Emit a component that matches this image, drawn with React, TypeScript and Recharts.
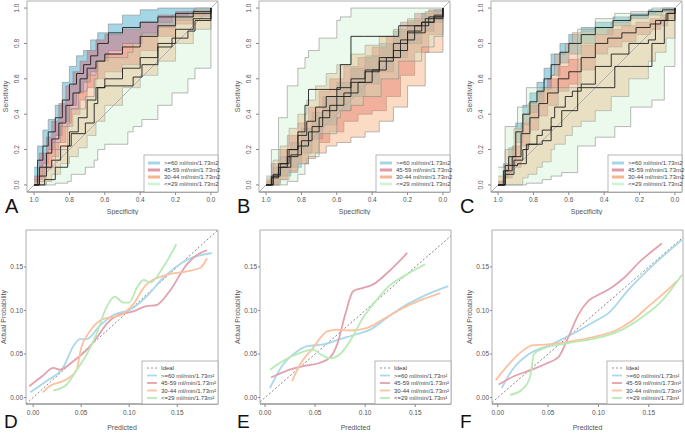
import React from 'react';
import { ComposedChart, Area, Line, XAxis, YAxis, ReferenceLine, ReferenceArea } from 'recharts';

// ---------- labels ----------
const ROC_GROUPS = ['>=60 ml/min/1.73m2', '45-59 ml/min/1.73m2', '30-44 ml/min/1.73m2', '<=29 ml/min/1.73m2'];
const CAL_GROUPS = ['>=60 ml/min/1.73m\u00b2', '45-59 ml/min/1.73m\u00b2', '30-44 ml/min/1.73m\u00b2', '<=29 ml/min/1.73m\u00b2'];
const IDEAL_LABEL = 'Ideal';
const ROC_TICKS = [0, 0.2, 0.4, 0.6, 0.8, 1];
const CAL_TICKS = [0, 0.05, 0.1, 0.15];

// ---------- colours ----------
const BAND_FILLS = ['#94cfe2', '#d9606a', '#f4a46a', '#c1ecc5'];
const BAND_OPACITY = [0.85, 0.45, 0.4, 0.3];
const KEY_COLORS = ['#a6d5e3', '#e39aa5', '#f6b591', '#d5f2d6'];
const CAL_COLORS = ['#a9d8ea', '#e3a1ad', '#fdc0a0', '#b8eab4'];

// ---------- Panel A (ROC) ----------
const A60_SPEC = [1, 0.98, 0.95, 0.92, 0.88, 0.84, 0.8, 0.76, 0.72, 0.68, 0.64, 0.58, 0.5, 0.4, 0.3, 0.2, 0.1, 0];
const A60_SENS = [0, 0.14, 0.22, 0.3, 0.38, 0.48, 0.57, 0.63, 0.68, 0.73, 0.8, 0.86, 0.89, 0.92, 0.95, 0.97, 0.98, 1];
const A60_HI = [0.1, 0.22, 0.31, 0.37, 0.45, 0.58, 0.67, 0.73, 0.76, 0.82, 0.86, 0.91, 0.96, 0.99, 1, 1, 1, 1];
const A60_LO = [0, 0.05, 0.12, 0.2, 0.28, 0.36, 0.45, 0.52, 0.58, 0.64, 0.7, 0.76, 0.8, 0.85, 0.89, 0.93, 0.96, 1];

const A45_SPEC = [1, 0.97, 0.93, 0.9, 0.86, 0.82, 0.78, 0.74, 0.7, 0.65, 0.6, 0.5, 0.4, 0.3, 0.2, 0.1, 0];
const A45_SENS = [0, 0.1, 0.18, 0.26, 0.35, 0.45, 0.52, 0.6, 0.66, 0.7, 0.74, 0.78, 0.84, 0.9, 0.95, 0.97, 1];
const A45_HI = [0.05, 0.18, 0.27, 0.36, 0.46, 0.56, 0.64, 0.7, 0.76, 0.82, 0.85, 0.88, 0.92, 0.96, 0.98, 0.99, 1];
const A45_LO = [0, 0.03, 0.09, 0.16, 0.24, 0.33, 0.4, 0.48, 0.55, 0.6, 0.64, 0.68, 0.76, 0.84, 0.91, 0.95, 1];

const A30_SPEC = [1, 0.97, 0.93, 0.9, 0.85, 0.8, 0.75, 0.7, 0.65, 0.6, 0.5, 0.4, 0.3, 0.2, 0.1, 0];
const A30_SENS = [0, 0.05, 0.1, 0.14, 0.22, 0.3, 0.38, 0.48, 0.55, 0.6, 0.66, 0.72, 0.8, 0.88, 0.94, 1];
const A30_HI = [0.03, 0.1, 0.18, 0.24, 0.33, 0.43, 0.53, 0.62, 0.7, 0.74, 0.8, 0.84, 0.9, 0.95, 0.98, 1];
const A30_LO = [0, 0, 0.02, 0.06, 0.12, 0.16, 0.21, 0.28, 0.36, 0.45, 0.55, 0.62, 0.7, 0.8, 0.88, 1];

const A29_SPEC = [1, 0.94, 0.88, 0.81, 0.79, 0.71, 0.66, 0.64, 0.6, 0.47, 0.44, 0.39, 0.3, 0.22, 0.13, 0.09, 0];
const A29_SENS = [0, 0.03, 0.1, 0.22, 0.29, 0.35, 0.46, 0.55, 0.56, 0.56, 0.61, 0.68, 0.78, 0.83, 0.87, 0.93, 1];
const A29_HI = [0.02, 0.1, 0.2, 0.35, 0.43, 0.5, 0.6, 0.7, 0.72, 0.75, 0.8, 0.86, 0.92, 0.96, 0.98, 1, 1];
const A29_LO = [0, 0, 0.01, 0.02, 0.06, 0.1, 0.14, 0.2, 0.23, 0.3, 0.33, 0.37, 0.45, 0.52, 0.6, 0.66, 1];

// ---------- Panel B (ROC) ----------
const B60_SPEC = [1, 0.96, 0.92, 0.86, 0.8, 0.74, 0.68, 0.6, 0.52, 0.44, 0.36, 0.28, 0.2, 0.12, 0.05, 0];
const B60_SENS = [0, 0.05, 0.1, 0.17, 0.25, 0.33, 0.42, 0.5, 0.58, 0.65, 0.72, 0.8, 0.87, 0.92, 0.96, 1];
const B60_HI = [0.02, 0.1, 0.16, 0.24, 0.32, 0.41, 0.5, 0.58, 0.66, 0.73, 0.8, 0.87, 0.93, 0.97, 0.99, 1];
const B60_LO = [0, 0.01, 0.05, 0.1, 0.18, 0.26, 0.34, 0.42, 0.5, 0.57, 0.64, 0.72, 0.8, 0.87, 0.92, 1];

const B45_SPEC = [1, 0.97, 0.93, 0.88, 0.82, 0.76, 0.7, 0.64, 0.56, 0.48, 0.4, 0.32, 0.24, 0.16, 0.08, 0];
const B45_SENS = [0, 0.04, 0.1, 0.16, 0.22, 0.3, 0.38, 0.45, 0.52, 0.58, 0.65, 0.72, 0.82, 0.9, 0.95, 1];
const B45_HI = [0.03, 0.12, 0.2, 0.28, 0.35, 0.44, 0.53, 0.6, 0.67, 0.72, 0.78, 0.84, 0.92, 0.97, 0.99, 1];
const B45_LO = [0, 0, 0.03, 0.07, 0.12, 0.18, 0.24, 0.3, 0.36, 0.4, 0.42, 0.5, 0.62, 0.75, 0.85, 1];

const B30_SPEC = [1, 0.96, 0.92, 0.87, 0.82, 0.77, 0.72, 0.66, 0.6, 0.52, 0.44, 0.36, 0.28, 0.2, 0.1, 0];
const B30_SENS = [0, 0.06, 0.12, 0.2, 0.28, 0.36, 0.44, 0.5, 0.55, 0.6, 0.64, 0.7, 0.76, 0.86, 0.94, 1];
const B30_HI = [0.04, 0.14, 0.22, 0.32, 0.4, 0.48, 0.56, 0.63, 0.68, 0.74, 0.79, 0.84, 0.88, 0.94, 0.98, 1];
const B30_LO = [0, 0, 0.03, 0.08, 0.12, 0.15, 0.18, 0.22, 0.24, 0.27, 0.3, 0.36, 0.44, 0.56, 0.75, 1];

const B29_SPEC = [1, 0.97, 0.93, 0.88, 0.82, 0.78, 0.76, 0.7, 0.6, 0.58, 0.52, 0.45, 0.35, 0.25, 0.12, 0.05, 0];
const B29_SENS = [0, 0.05, 0.12, 0.2, 0.3, 0.45, 0.54, 0.54, 0.54, 0.68, 0.84, 0.84, 0.84, 0.9, 0.92, 0.95, 1];
const B29_HI = [0.05, 0.2, 0.38, 0.56, 0.66, 0.72, 0.76, 0.83, 0.93, 0.95, 1, 1, 1, 1, 1, 1, 1];
const B29_LO = [0, 0, 0, 0.02, 0.06, 0.12, 0.16, 0.29, 0.38, 0.42, 0.45, 0.5, 0.6, 0.7, 0.78, 0.84, 1];

// ---------- Panel C (ROC) ----------
const C60_SPEC = [1, 0.97, 0.94, 0.9, 0.86, 0.82, 0.78, 0.74, 0.7, 0.65, 0.6, 0.53, 0.45, 0.35, 0.25, 0.15, 0.07, 0];
const C60_SENS = [0, 0.08, 0.16, 0.3, 0.4, 0.47, 0.53, 0.6, 0.68, 0.75, 0.8, 0.85, 0.89, 0.93, 0.96, 0.98, 0.99, 1];
const C60_HI = [0.02, 0.12, 0.21, 0.35, 0.45, 0.52, 0.58, 0.66, 0.74, 0.8, 0.85, 0.89, 0.92, 0.95, 0.97, 0.99, 1, 1];
const C60_LO = [0, 0.04, 0.11, 0.24, 0.34, 0.41, 0.47, 0.54, 0.62, 0.69, 0.74, 0.8, 0.85, 0.9, 0.94, 0.96, 0.98, 1];

const C45_SPEC = [1, 0.96, 0.92, 0.87, 0.82, 0.77, 0.72, 0.66, 0.6, 0.53, 0.45, 0.38, 0.3, 0.22, 0.14, 0.08, 0.04, 0];
const C45_SENS = [0, 0.08, 0.16, 0.29, 0.38, 0.46, 0.52, 0.6, 0.64, 0.72, 0.8, 0.83, 0.86, 0.89, 0.91, 0.93, 0.97, 1];
const C45_HI = [0.02, 0.12, 0.22, 0.35, 0.45, 0.53, 0.6, 0.67, 0.71, 0.79, 0.85, 0.88, 0.9, 0.92, 0.94, 0.96, 0.98, 1];
const C45_LO = [0, 0.04, 0.1, 0.22, 0.31, 0.39, 0.45, 0.53, 0.57, 0.65, 0.74, 0.78, 0.81, 0.85, 0.88, 0.9, 0.94, 1];

const C30_SPEC = [1, 0.96, 0.91, 0.86, 0.83, 0.78, 0.75, 0.7, 0.68, 0.62, 0.58, 0.53, 0.45, 0.36, 0.26, 0.15, 0.11, 0.05, 0];
const C30_SENS = [0, 0.06, 0.14, 0.2, 0.23, 0.28, 0.31, 0.38, 0.44, 0.5, 0.53, 0.57, 0.67, 0.74, 0.8, 0.82, 0.93, 0.97, 1];
const C30_HI = [0.05, 0.2, 0.32, 0.4, 0.46, 0.52, 0.55, 0.62, 0.74, 0.8, 0.86, 0.87, 0.89, 0.92, 0.95, 0.97, 0.98, 0.99, 1];
const C30_LO = [0, 0, 0, 0.04, 0.06, 0.1, 0.13, 0.2, 0.23, 0.28, 0.33, 0.36, 0.42, 0.5, 0.6, 0.7, 0.75, 0.83, 1];

const C29_SPEC = [1, 0.96, 0.89, 0.84, 0.75, 0.7, 0.64, 0.55, 0.45, 0.34, 0.25, 0.13, 0.06, 0];
const C29_SENS = [0, 0.11, 0.12, 0.23, 0.25, 0.33, 0.42, 0.55, 0.55, 0.67, 0.67, 0.8, 0.93, 1];
const C29_HI = [0.1, 0.33, 0.44, 0.55, 0.55, 0.55, 0.55, 0.88, 0.94, 0.97, 0.98, 1, 1, 1];
const C29_LO = [0, 0, 0, 0.01, 0.03, 0.05, 0.07, 0.22, 0.27, 0.33, 0.44, 0.48, 0.67, 1];

// ---------- Panel D (calibration) ----------
const D60_X = [-0.003, 0.014, 0.031, 0.043, 0.049, 0.056, 0.069, 0.084, 0.101, 0.118, 0.135, 0.16, 0.186];
const D60_Y = [0.006, 0.019, 0.034, 0.061, 0.067, 0.067, 0.082, 0.095, 0.101, 0.116, 0.137, 0.158, 0.166];
const D45_X = [-0.004, 0.01, 0.021, 0.028, 0.042, 0.056, 0.069, 0.076, 0.087, 0.104, 0.118, 0.128, 0.142, 0.16, 0.174, 0.181];
const D45_Y = [0.013, 0.025, 0.034, 0.032, 0.042, 0.055, 0.073, 0.084, 0.094, 0.099, 0.105, 0.106, 0.122, 0.153, 0.166, 0.169];
const D30_X = [0.01, 0.017, 0.035, 0.045, 0.05, 0.059, 0.069, 0.08, 0.09, 0.104, 0.118, 0.139, 0.16, 0.174, 0.181];
const D30_Y = [0.006, 0.013, 0.021, 0.031, 0.057, 0.076, 0.088, 0.092, 0.094, 0.107, 0.13, 0.141, 0.145, 0.149, 0.16];
const D29_X = [0.021, 0.035, 0.045, 0.056, 0.066, 0.076, 0.085, 0.094, 0.1, 0.108, 0.115, 0.122, 0.135, 0.149];
const D29_Y = [0.008, 0.015, 0.031, 0.05, 0.073, 0.103, 0.116, 0.109, 0.109, 0.126, 0.135, 0.132, 0.149, 0.176];

// ---------- Panel E (calibration) ----------
const E60_X = [0.005, 0.018, 0.032, 0.042, 0.058, 0.075, 0.092, 0.105, 0.122, 0.142, 0.165, 0.183];
const E60_Y = [0.011, 0.038, 0.053, 0.059, 0.061, 0.067, 0.073, 0.078, 0.092, 0.107, 0.12, 0.128];
const E45_X = [0.006, 0.022, 0.038, 0.055, 0.065, 0.072, 0.08, 0.088, 0.098, 0.108, 0.122, 0.142];
const E45_Y = [0.023, 0.031, 0.036, 0.04, 0.046, 0.061, 0.095, 0.122, 0.126, 0.13, 0.143, 0.166];
const E30_X = [0.027, 0.035, 0.048, 0.062, 0.072, 0.085, 0.102, 0.118, 0.138, 0.158, 0.175];
const E30_Y = [0.019, 0.038, 0.057, 0.076, 0.078, 0.077, 0.08, 0.09, 0.103, 0.113, 0.12];
const E29_X = [0.005, 0.015, 0.028, 0.048, 0.055, 0.065, 0.075, 0.085, 0.098, 0.108, 0.122, 0.135, 0.147, 0.16];
const E29_Y = [0.032, 0.04, 0.048, 0.055, 0.05, 0.045, 0.05, 0.065, 0.092, 0.107, 0.126, 0.137, 0.145, 0.153];

// ---------- Panel F (calibration) ----------
const F60_X = [0.004, 0.014, 0.031, 0.044, 0.057, 0.074, 0.097, 0.11, 0.13, 0.157, 0.183];
const F60_Y = [0.011, 0.031, 0.05, 0.057, 0.063, 0.073, 0.088, 0.097, 0.124, 0.155, 0.181];
const F45_X = [0.001, 0.017, 0.034, 0.05, 0.06, 0.07, 0.08, 0.09, 0.1, 0.11, 0.123, 0.143, 0.163];
const F45_Y = [0.015, 0.025, 0.032, 0.04, 0.046, 0.069, 0.095, 0.111, 0.118, 0.124, 0.135, 0.158, 0.177];
const F30_X = [-0.002, 0.014, 0.024, 0.034, 0.05, 0.07, 0.097, 0.117, 0.133, 0.15, 0.17, 0.178];
const F30_Y = [0.02, 0.042, 0.053, 0.06, 0.061, 0.064, 0.07, 0.077, 0.088, 0.105, 0.125, 0.134];
const F29_X = [0.012, 0.024, 0.032, 0.036, 0.047, 0.067, 0.097, 0.12, 0.143, 0.163, 0.183];
const F29_Y = [0.003, 0.009, 0.023, 0.05, 0.057, 0.062, 0.068, 0.076, 0.092, 0.111, 0.141];

// ---------- builders ----------
const rocRows = (spec: number[], sens: number[], lo: number[], hi: number[]) =>
  spec.map((s, i) => ({ spec: s, sens: sens[i], band: [lo[i], hi[i]] }));
const calRows = (xs: number[], ys: number[]) => xs.map((x, i) => ({ x, y: ys[i] }));

const PANEL_A = [
  rocRows(A60_SPEC, A60_SENS, A60_LO, A60_HI),
  rocRows(A45_SPEC, A45_SENS, A45_LO, A45_HI),
  rocRows(A30_SPEC, A30_SENS, A30_LO, A30_HI),
  rocRows(A29_SPEC, A29_SENS, A29_LO, A29_HI),
];
const PANEL_B = [
  rocRows(B60_SPEC, B60_SENS, B60_LO, B60_HI),
  rocRows(B45_SPEC, B45_SENS, B45_LO, B45_HI),
  rocRows(B30_SPEC, B30_SENS, B30_LO, B30_HI),
  rocRows(B29_SPEC, B29_SENS, B29_LO, B29_HI),
];
const PANEL_C = [
  rocRows(C60_SPEC, C60_SENS, C60_LO, C60_HI),
  rocRows(C45_SPEC, C45_SENS, C45_LO, C45_HI),
  rocRows(C30_SPEC, C30_SENS, C30_LO, C30_HI),
  rocRows(C29_SPEC, C29_SENS, C29_LO, C29_HI),
];
const PANEL_D = [calRows(D60_X, D60_Y), calRows(D45_X, D45_Y), calRows(D30_X, D30_Y), calRows(D29_X, D29_Y)];
const PANEL_E = [calRows(E60_X, E60_Y), calRows(E45_X, E45_Y), calRows(E30_X, E30_Y), calRows(E29_X, E29_Y)];
const PANEL_F = [calRows(F60_X, F60_Y), calRows(F45_X, F45_Y), calRows(F30_X, F30_Y), calRows(F29_X, F29_Y)];

const FONT = '"Liberation Sans", Arial, Helvetica, sans-serif';
const TXT = '#555';
const ROC_DOMAIN: [number, number] = [-0.04, 1.04];
const CAL_Y_DOMAIN: [number, number] = [-0.0074, 0.1924];

const RocYTick = (props: any) => {
  const { x, y, payload } = props;
  return (
    <text x={x} y={y} transform={`rotate(-90, ${x}, ${y})`} textAnchor="middle" fontSize={6.5} fill={TXT}>
      {Number(payload.value).toFixed(1)}
    </text>
  );
};

function RocPanel({ x0, x1, groups }: { x0: number; x1: number; groups: any[] }) {
  const yW = 27, mTop = 1, plotH = 191, xH = 23, mRight = 3;
  const plotW = x1 - x0;
  return (
    <div style={{ position: 'absolute', left: x0 - yW, top: 0 }}>
      <ComposedChart width={yW + plotW + mRight} height={mTop + plotH + xH} margin={{ top: mTop, right: mRight, bottom: 0, left: 0 }}>
        <XAxis type="number" dataKey="spec" domain={ROC_DOMAIN} reversed allowDataOverflow ticks={ROC_TICKS}
          tickFormatter={(v: number) => v.toFixed(1)} height={xH} tickSize={3} tickMargin={2} stroke="#888" interval={0}
          tick={{ fontSize: 6.5, fill: TXT }}
          label={{ value: 'Specificity', position: 'insideBottom', offset: 1, fontSize: 7, fill: TXT }} />
        <YAxis type="number" domain={ROC_DOMAIN} allowDataOverflow ticks={ROC_TICKS} width={yW} tickSize={3} tickMargin={5}
          axisLine={false} stroke="#888" tick={RocYTick} interval={0}
          label={{ value: 'Sensitivity', angle: -90, position: 'insideLeft', offset: 6, fontSize: 7, fill: TXT, style: { textAnchor: 'middle' } }} />
        <ReferenceLine segment={[{ x: 1.04, y: -0.04 }, { x: -0.04, y: 1.04 }]} stroke="#b0b0b0" strokeWidth={1} />
        {groups.map((g, i) => (
          <Area key={'band' + i} data={g} dataKey="band" type="stepAfter" fill={BAND_FILLS[i]} fillOpacity={BAND_OPACITY[i]}
            stroke="#8c8c8c" strokeWidth={0.6} isAnimationActive={false} dot={false} activeDot={false} />
        ))}
        {groups.map((g, i) => (
          <Line key={'roc' + i} data={g} dataKey="sens" type="stepAfter" stroke="#1e1e1e" strokeWidth={0.9}
            dot={false} activeDot={false} isAnimationActive={false} />
        ))}
        <ReferenceArea x1={ROC_DOMAIN[0]} x2={ROC_DOMAIN[1]} y1={ROC_DOMAIN[0]} y2={ROC_DOMAIN[1]} fill="none" stroke="#999" strokeWidth={0.8} />
      </ComposedChart>
    </div>
  );
}

function CalPanel({ x0, x1, xDomain, groups }: { x0: number; x1: number; xDomain: [number, number]; groups: any[] }) {
  const yW = 26, mTop = 1, plotH = 174, xH = 29, mRight = 2;
  const plotW = x1 - x0;
  return (
    <div style={{ position: 'absolute', left: x0 - yW, top: 229 }}>
      <ComposedChart width={yW + plotW + mRight} height={mTop + plotH + xH} margin={{ top: mTop, right: mRight, bottom: 0, left: 0 }}>
        <XAxis type="number" dataKey="x" domain={xDomain} allowDataOverflow ticks={CAL_TICKS}
          tickFormatter={(v: number) => v.toFixed(2)} height={xH} tickSize={3} tickMargin={3} stroke="#888" interval={0}
          tick={{ fontSize: 6.5, fill: TXT }}
          label={{ value: 'Predicted', position: 'insideBottom', offset: 3, fontSize: 7, fill: TXT }} />
        <YAxis type="number" dataKey="y" domain={CAL_Y_DOMAIN} allowDataOverflow ticks={CAL_TICKS} width={yW}
          tickFormatter={(v: number) => v.toFixed(2)} tickSize={2} tickMargin={1} axisLine={false} stroke="#888" interval={0}
          tick={{ fontSize: 6.5, fill: TXT }}
          label={{ value: 'Actual Probability', angle: -90, position: 'insideLeft', offset: 4, fontSize: 7, fill: TXT, style: { textAnchor: 'middle' } }} />
        <ReferenceLine segment={[{ x: xDomain[0], y: Math.max(xDomain[0], CAL_Y_DOMAIN[0]) }, { x: xDomain[1], y: xDomain[1] }]}
          stroke="#666" strokeDasharray="2 2" strokeWidth={0.8} />
        {groups.map((g, i) => (
          <Line key={'cal' + i} data={g} dataKey="y" type="monotone" stroke={CAL_COLORS[i]} strokeWidth={1.8}
            dot={false} activeDot={false} isAnimationActive={false} />
        ))}
        <ReferenceArea x1={xDomain[0]} x2={xDomain[1]} y1={CAL_Y_DOMAIN[0]} y2={CAL_Y_DOMAIN[1]} fill="none" stroke="#999" strokeWidth={0.8} />
      </ComposedChart>
    </div>
  );
}

function RocKey({ right, bottom }: { right: number; bottom: number }) {
  const w = 74, h = 37, x = right - w, y = bottom - h;
  return (
    <g>
      <rect x={x} y={y} width={w} height={h} fill="#fff" stroke="#999" strokeWidth={0.7} />
      {ROC_GROUPS.map((t, i) => (
        <g key={t}>
          <line x1={x + 4} x2={x + 16} y1={y + 8 + i * 7} y2={y + 8 + i * 7} stroke={KEY_COLORS[i]} strokeWidth={3} />
          <text x={x + 20} y={y + 10.2 + i * 7} fontSize={6} fill="#444">{t}</text>
        </g>
      ))}
    </g>
  );
}

function CalKey({ right, bottom }: { right: number; bottom: number }) {
  const w = 76, h = 43, x = right - w, y = bottom - h;
  return (
    <g>
      <rect x={x} y={y} width={w} height={h} fill="#fff" stroke="#999" strokeWidth={0.7} />
      <line x1={x + 5} x2={x + 15} y1={y + 7} y2={y + 7} stroke="#777" strokeWidth={0.8} strokeDasharray="2 2" />
      <text x={x + 19} y={y + 9.2} fontSize={6} fill="#444">{IDEAL_LABEL}</text>
      {CAL_GROUPS.map((t, i) => (
        <g key={t}>
          <line x1={x + 5} x2={x + 15} y1={y + 14.5 + i * 7.5} y2={y + 14.5 + i * 7.5} stroke={CAL_COLORS[i]} strokeWidth={1.8} />
          <text x={x + 19} y={y + 16.7 + i * 7.5} fontSize={6} fill="#444">{t}</text>
        </g>
      ))}
    </g>
  );
}

export default function App() {
  return (
    <div style={{ position: 'absolute', left: 0, top: 0, width: 685, height: 433, background: '#fff', fontFamily: FONT, overflow: 'hidden' }}>
      <RocPanel x0={27} x1={218} groups={PANEL_A} />
      <RocPanel x0={259} x1={450} groups={PANEL_B} />
      <RocPanel x0={491} x1={682} groups={PANEL_C} />
      <CalPanel x0={26} x1={218} xDomain={[-0.0074, 0.1924]} groups={PANEL_D} />
      <CalPanel x0={260} x1={451} xDomain={[-0.005, 0.1857]} groups={PANEL_E} />
      <CalPanel x0={492} x1={683} xDomain={[-0.0057, 0.184]} groups={PANEL_F} />
      <svg width={685} height={433} style={{ position: 'absolute', left: 0, top: 0, pointerEvents: 'none', fontFamily: FONT }}>
        <RocKey right={218} bottom={192} />
        <RocKey right={450} bottom={192} />
        <RocKey right={682} bottom={192} />
        <CalKey right={218} bottom={404} />
        <CalKey right={451} bottom={404} />
        <CalKey right={683} bottom={404} />
        <text x={5} y={213} fontSize={20} fill="#111">A</text>
        <text x={237} y={213} fontSize={20} fill="#111">B</text>
        <text x={460} y={213} fontSize={20} fill="#111">C</text>
        <text x={4} y={428} fontSize={19} fill="#111">D</text>
        <text x={237} y={428} fontSize={19} fill="#111">E</text>
        <text x={460} y={428} fontSize={19} fill="#111">F</text>
      </svg>
    </div>
  );
}
